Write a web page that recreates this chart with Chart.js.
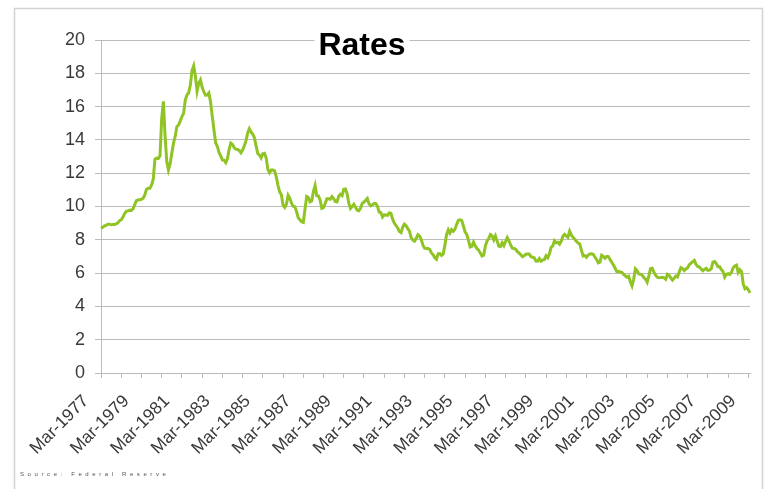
<!DOCTYPE html>
<html>
<head>
<meta charset="utf-8">
<script src="https://cdn.jsdelivr.net/npm/chart.js@4"></script>
<style>
  html, body { margin: 0; padding: 0; background: #fff; }
  #wrap { position: relative; width: 770px; height: 489px; }
  #source { position: absolute; left: 20px; top: 471px; font: 6px "Liberation Sans", sans-serif; letter-spacing: 3.6px; color: #555; white-space: nowrap; }
</style>
</head>
<body>
<div id="wrap">
  <canvas id="myChart" width="770" height="489"></canvas>
  <div id="source">Source: Federal Reserve</div>
</div>
<script>
// monthly rates, Mar-1977 .. Apr-2009
var monthNames = ['Jan', 'Feb', 'Mar', 'Apr', 'May', 'Jun', 'Jul', 'Aug', 'Sep', 'Oct', 'Nov', 'Dec'];
var startYear = 1977;
var startMonth = 2; // March
var rates = [
  8.69, 8.75, 8.83, 8.86, 8.94, 8.94, 8.90, 8.92, 8.92, 8.96,            // 1977
  9.02, 9.15, 9.20, 9.36, 9.57, 9.71, 9.74, 9.78, 9.76, 9.86, 10.11, 10.35, // 1978
  10.39, 10.41, 10.43, 10.50, 10.69, 11.04, 11.09, 11.09, 11.30, 11.64, 12.83, 12.90, // 1979
  12.88, 13.04, 15.28, 16.32, 14.26, 12.71, 12.19, 12.56, 13.20, 13.79, 14.21, 14.79, // 1980
  14.90, 15.13, 15.40, 15.58, 16.40, 16.70, 16.83, 17.29, 18.16, 18.45, 17.83, 16.92, // 1981
  17.40, 17.60, 17.16, 16.89, 16.68, 16.70, 16.82, 16.27, 15.43, 14.61, 13.83, 13.62, // 1982
  13.25, 13.04, 12.80, 12.78, 12.63, 12.87, 13.42, 13.81, 13.73, 13.54, 13.44, 13.42, // 1983
  13.37, 13.23, 13.39, 13.65, 13.94, 14.42, 14.67, 14.47, 14.35, 14.13, 13.64, 13.18, // 1984
  13.08, 12.92, 13.17, 13.20, 12.91, 12.22, 12.03, 12.19, 12.19, 12.14, 11.78, 11.26, // 1985
  10.88, 10.71, 10.08, 9.94, 10.14, 10.68, 10.51, 10.20, 10.01, 9.98, 9.70, 9.32,     // 1986
  9.20, 9.08, 9.04, 9.83, 10.60, 10.54, 10.28, 10.33, 10.89, 11.26, 10.65, 10.64,     // 1987
  10.38, 9.89, 9.93, 10.20, 10.46, 10.46, 10.43, 10.60, 10.48, 10.30, 10.27, 10.61,   // 1988
  10.73, 10.65, 11.03, 11.05, 10.77, 10.20, 9.88, 9.99, 10.13, 9.95, 9.77, 9.74,      // 1989
  9.90, 10.20, 10.27, 10.37, 10.48, 10.16, 10.04, 10.10, 10.18, 10.18, 10.01, 9.67,   // 1990
  9.64, 9.37, 9.50, 9.49, 9.47, 9.62, 9.58, 9.24, 9.01, 8.86, 8.71, 8.50,             // 1991
  8.43, 8.76, 8.94, 8.85, 8.67, 8.51, 8.13, 7.98, 7.92, 8.09, 8.31, 8.22,             // 1992
  8.02, 7.68, 7.50, 7.47, 7.47, 7.42, 7.21, 7.11, 6.92, 6.83, 7.16, 7.17,             // 1993
  7.06, 7.15, 7.68, 8.32, 8.60, 8.40, 8.61, 8.51, 8.64, 8.93, 9.17, 9.20,             // 1994
  9.15, 8.83, 8.46, 8.32, 7.96, 7.57, 7.61, 7.86, 7.64, 7.48, 7.38, 7.20,             // 1995
  7.03, 7.08, 7.62, 7.93, 8.07, 8.32, 8.25, 8.00, 8.23, 7.92, 7.62, 7.60,             // 1996
  7.82, 7.65, 7.90, 8.14, 7.94, 7.69, 7.50, 7.48, 7.43, 7.29, 7.21, 7.10,             // 1997
  6.99, 7.04, 7.13, 7.14, 7.14, 7.00, 6.95, 6.92, 6.72, 6.71, 6.87, 6.72,             // 1998
  6.79, 6.81, 7.04, 6.92, 7.15, 7.55, 7.63, 7.94, 7.82, 7.85, 7.74, 7.91,             // 1999
  8.21, 8.33, 8.24, 8.15, 8.52, 8.29, 8.15, 8.03, 7.91, 7.80, 7.75, 7.38,             // 2000
  7.03, 7.05, 6.95, 7.08, 7.15, 7.16, 7.13, 6.95, 6.82, 6.62, 6.66, 7.07,             // 2001
  7.00, 6.89, 7.01, 6.99, 6.81, 6.65, 6.49, 6.29, 6.09, 6.11, 6.07, 6.05,             // 2002
  5.92, 5.84, 5.75, 5.81, 5.48, 5.23, 5.63, 6.26, 6.15, 5.95, 5.93, 5.88,             // 2003
  5.74, 5.64, 5.45, 5.83, 6.27, 6.29, 6.06, 5.87, 5.75, 5.72, 5.73, 5.75,             // 2004
  5.71, 5.63, 5.93, 5.86, 5.72, 5.58, 5.70, 5.82, 5.77, 6.07, 6.33, 6.27,             // 2005
  6.15, 6.25, 6.32, 6.51, 6.60, 6.68, 6.76, 6.52, 6.40, 6.36, 6.24, 6.14,             // 2006
  6.22, 6.29, 6.16, 6.18, 6.26, 6.66, 6.70, 6.57, 6.38, 6.38, 6.21, 6.10,             // 2007
  5.76, 5.92, 5.97, 5.92, 6.04, 6.32, 6.43, 6.48, 6.04, 6.20, 6.09, 5.33,             // 2008
  5.06, 5.13, 5.00, 4.81                                                              // 2009
];
var labelEvery = 24; // one label every 2 years
var tickEvery = 12;  // tick mark every year

var labels = [];
for (var i = 0; i < rates.length; i++) {
  var m = startMonth + i;
  labels.push(monthNames[m % 12] + '-' + (startYear + Math.floor(m / 12)));
}

var fontFamily = '"Liberation Sans", Arial, sans-serif';
var axisGray = '#bcbcbc';

// frame around the chart and the title on a white box
var decor = {
  id: 'decor',
  beforeDraw: function(chart) {
    var c = chart.ctx;
    c.save();
    c.fillStyle = '#fff';
    c.fillRect(0, 0, chart.width, chart.height);
    c.strokeStyle = '#d2d2d2';
    c.lineWidth = 1.5;
    c.strokeRect(14.5, 8.5, 748, 500);
    c.restore();
  },
  afterDraw: function(chart) {
    var c = chart.ctx;
    c.save();
    c.font = 'bold 32px ' + fontFamily;
    var w = c.measureText('Rates').width;
    var cx = 362;
    c.fillStyle = '#fff';
    c.fillRect(cx - w / 2 - 4, 28, w + 8, 34);
    c.fillStyle = '#000';
    c.textAlign = 'center';
    c.textBaseline = 'alphabetic';
    c.fillText('Rates', cx, 55);
    c.restore();
  }
};

var ctx = document.getElementById('myChart').getContext('2d');
var chart = new Chart(ctx, {
  type: 'line',
  data: {
    labels: labels,
    datasets: [{
      label: 'Rates',
      data: rates,
      borderColor: '#8fc424',
      borderWidth: 3,
      pointRadius: 0,
      fill: false,
      tension: 0
    }]
  },
  options: {
    responsive: false,
    animation: false,
    devicePixelRatio: 1,
    layout: { padding: { top: 40, right: 20, bottom: 0, left: 0 } },
    plugins: {
      legend: { display: false },
      title: { display: false },
      tooltip: { enabled: false }
    },
    scales: {
      x: {
        offset: false,
        grid: {
          drawOnChartArea: false,
          drawTicks: true,
          tickLength: 5,
          color: function(c) { return c.index % tickEvery === 0 ? axisGray : 'rgba(0,0,0,0)'; }
        },
        border: { color: axisGray },
        ticks: {
          autoSkip: false,
          minRotation: 45,
          maxRotation: 45,
          padding: 13,
          labelOffset: -15,
          color: '#3a3a3a',
          font: { family: fontFamily, size: 17.5 },
          callback: function(v, i) {
            return i % labelEvery === 0 ? this.getLabelForValue(v) : '';
          }
        },
        afterFit: function(s) {
          s.height = 116;
          s.paddingRight = 0;
          s.paddingLeft = 0;
        }
      },
      y: {
        min: 0,
        max: 20,
        grid: { color: axisGray, tickLength: 6 },
        border: { color: axisGray },
        ticks: {
          stepSize: 2,
          padding: 10,
          color: '#3a3a3a',
          font: { family: fontFamily, size: 18 }
        },
        afterFit: function(s) { s.width = 101; }
      }
    }
  },
  plugins: [decor]
});
</script>
</body>
</html>
